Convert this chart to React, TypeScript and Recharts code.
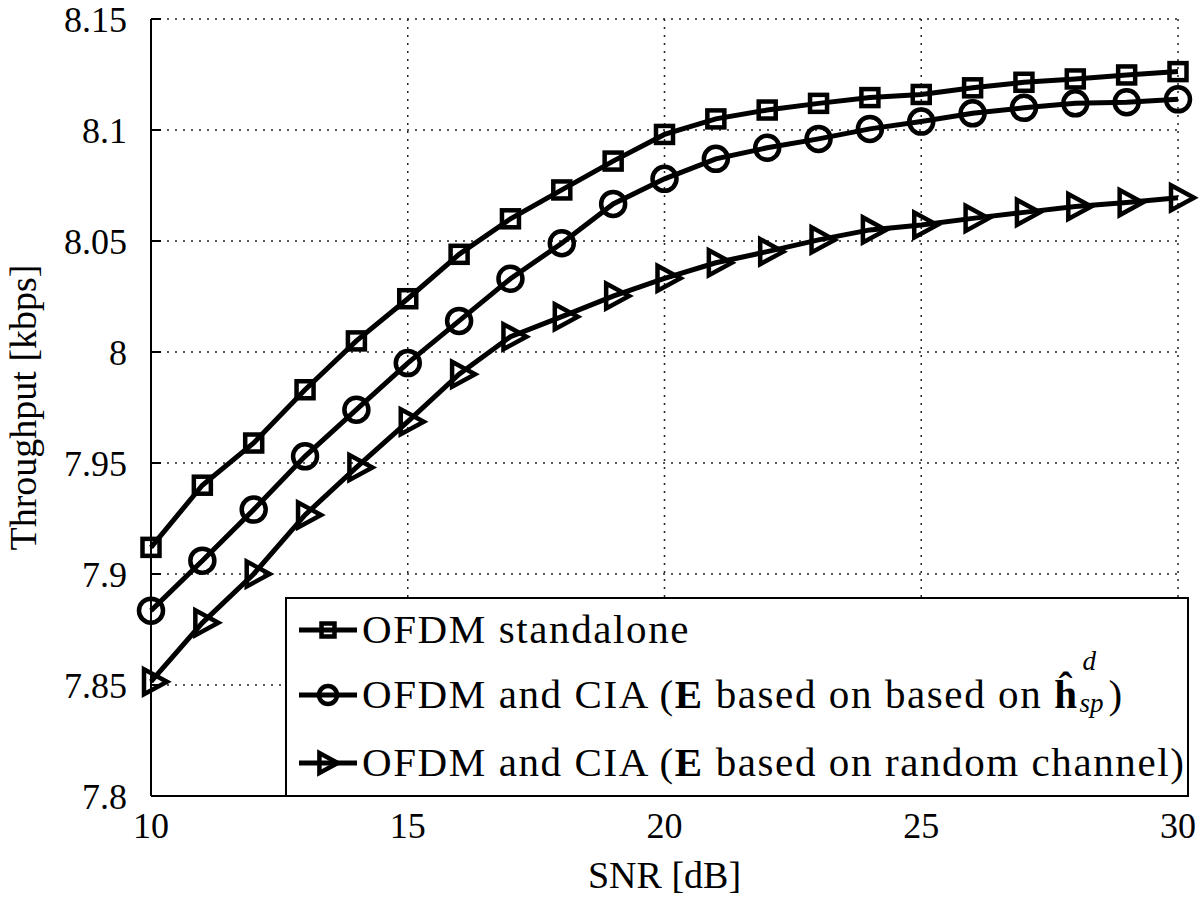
import React from 'react';
import {
  LineChart,
  Line,
  XAxis,
  YAxis,
  CartesianGrid,
} from 'recharts';

// SNR points (dB)
const snr = [10, 11, 12, 13, 14, 15, 16, 17, 18, 19, 20, 21, 22, 23, 24, 25, 26, 27, 28, 29, 30];

// throughput [kbps]
const standalone = [
  7.912, 7.94, 7.959, 7.983, 8.005, 8.024, 8.044, 8.06, 8.073, 8.086, 8.098,
  8.105, 8.109, 8.112, 8.1146, 8.116, 8.119, 8.1215, 8.123, 8.1248, 8.1263,
];
const ciaEstimated = [
  7.8835, 7.906, 7.929, 7.953, 7.974, 7.995, 8.014, 8.033, 8.049, 8.0667, 8.078,
  8.087, 8.092, 8.096, 8.1005, 8.1038, 8.1075, 8.11, 8.112, 8.1125, 8.1138,
];
const ciaRandom = [
  7.8515, 7.878, 7.9, 7.9266, 7.948, 7.9686, 7.99, 8.0069, 8.0159, 8.0252, 8.0332,
  8.0402, 8.0452, 8.0505, 8.055, 8.0572, 8.0602, 8.0629, 8.0655, 8.0673, 8.0695,
];

const xTicks = [10, 15, 20, 25, 30];
const yTicks = [7.8, 7.85, 7.9, 7.95, 8, 8.05, 8.1, 8.15];

const chartData = snr.map((s, i) => ({
  snr: s,
  standalone: standalone[i],
  ciaEstimated: ciaEstimated[i],
  ciaRandom: ciaRandom[i],
}));

const FONT = '"Liberation Serif", "Times New Roman", serif';
const MARK_W = 4.5;

// markers, hollow like matlab's default
const SquareMark = ({ cx, cy, s = 8.5 }: any) => (
  <rect x={cx - s} y={cy - s} width={s * 2} height={s * 2} fill="none" stroke="#000" strokeWidth={MARK_W} />
);
const CircleMark = ({ cx, cy, r = 12 }: any) => (
  <circle cx={cx} cy={cy} r={r} fill="none" stroke="#000" strokeWidth={MARK_W} />
);
const TriangleMark = ({ cx, cy, k = 1 }: any) => (
  <polygon
    points={`${cx - 7 * k},${cy - 12.5 * k} ${cx - 7 * k},${cy + 12.5 * k} ${cx + 16 * k},${cy}`}
    fill="none"
    stroke="#000"
    strokeWidth={MARK_W}
    strokeLinejoin="miter"
  />
);

const tickStyle = { fontFamily: FONT, fontSize: 36, fill: '#000' };

const LegendRow = ({ top, marker, children }: any) => (
  <div style={{ position: 'absolute', left: 0, top: top, height: 0 }}>
    <svg width={80} height={40} style={{ position: 'absolute', left: 8, top: -20 }}>
      <line x1={4} y1={20} x2={62} y2={20} stroke="#000" strokeWidth={5} />
      {marker}
    </svg>
    <div
      style={{
        position: 'absolute',
        left: 75,
        top: -26,
        whiteSpace: 'nowrap',
        fontFamily: FONT,
        fontSize: 41,
        lineHeight: '50px',
        letterSpacing: 1.6,
      }}
    >
      {children}
    </div>
  </div>
);

const scriptStyle: React.CSSProperties = {
  position: 'absolute',
  fontStyle: 'italic',
  fontSize: 27,
  lineHeight: '30px',
  letterSpacing: 0,
};

const App: React.FC = () => {
  return (
    <div style={{ position: 'absolute', left: 0, top: 0, width: 1200, height: 898, background: '#fff' }}>
      <LineChart
        width={1200}
        height={898}
        data={chartData}
        margin={{ top: 19, right: 22, bottom: 0, left: 0 }}
      >
        <CartesianGrid
          stroke="#222"
          strokeWidth={1.5}
          strokeDasharray="2 6"
          horizontalValues={yTicks}
          verticalValues={xTicks}
        />
        <XAxis
          dataKey="snr"
          type="number"
          domain={[10, 30]}
          ticks={xTicks}
          interval={0}
          height={102}
          axisLine={{ stroke: '#000', strokeWidth: 2 }}
          tickLine={{ stroke: '#000', strokeWidth: 2 }}
          tickSize={-10}
          tickMargin={26}
          tick={tickStyle}
          label={{ value: 'SNR [dB]', position: 'insideBottom', offset: 10, style: { fontFamily: FONT, fontSize: 38, fill: '#000' } }}
        />
        <XAxis
          xAxisId="top"
          orientation="top"
          dataKey="snr"
          type="number"
          domain={[10, 30]}
          ticks={xTicks}
          height={0}
          axisLine={{ stroke: '#000', strokeWidth: 2 }}
          tickLine={{ stroke: '#000', strokeWidth: 2 }}
          tickSize={-10}
          tick={false}
        />
        <YAxis
          type="number"
          domain={[7.8, 8.15]}
          ticks={yTicks}
          interval={0}
          width={151}
          axisLine={{ stroke: '#000', strokeWidth: 2 }}
          tickLine={{ stroke: '#000', strokeWidth: 2 }}
          tickSize={-10}
          tickMargin={34}
          tick={tickStyle}
          allowDataOverflow
          label={{
            value: 'Throughput [kbps]',
            angle: -90,
            position: 'insideLeft',
            offset: 23,
            style: { fontFamily: FONT, fontSize: 38, fill: '#000', textAnchor: 'middle' },
          }}
        />
        <YAxis
          yAxisId="right"
          orientation="right"
          type="number"
          domain={[7.8, 8.15]}
          ticks={yTicks}
          width={0}
          axisLine={{ stroke: '#000', strokeWidth: 2 }}
          tickLine={{ stroke: '#000', strokeWidth: 2 }}
          tickSize={-10}
          tick={false}
        />
        <Line
          type="linear"
          dataKey="standalone"
          stroke="#000"
          strokeWidth={5}
          isAnimationActive={false}
          dot={(p: any) => <SquareMark key={`s-${p.index}`} cx={p.cx} cy={p.cy} />}
          activeDot={false}
        />
        <Line
          type="linear"
          dataKey="ciaEstimated"
          stroke="#000"
          strokeWidth={5}
          isAnimationActive={false}
          dot={(p: any) => <CircleMark key={`c-${p.index}`} cx={p.cx} cy={p.cy} />}
          activeDot={false}
        />
        <Line
          type="linear"
          dataKey="ciaRandom"
          stroke="#000"
          strokeWidth={5}
          isAnimationActive={false}
          dot={(p: any) => <TriangleMark key={`t-${p.index}`} cx={p.cx} cy={p.cy} />}
          activeDot={false}
        />
      </LineChart>

      {/* legend box, lower right */}
      <div
        style={{
          position: 'absolute',
          left: 285,
          top: 597,
          width: 904,
          height: 200,
          boxSizing: 'border-box',
          border: '2px solid #000',
          background: '#fff',
        }}
      >
        <LegendRow top={31} marker={<SquareMark cx={33} cy={20} s={6.5} />}>
          OFDM standalone
        </LegendRow>
        <LegendRow top={96} marker={<CircleMark cx={33} cy={20} r={9} />}>
          OFDM and CIA (<b>E</b> based on based on <b>h&#770;</b>
          <span style={{ position: 'relative', display: 'inline-block', width: 30, height: 0 }}>
            <span style={{ ...scriptStyle, left: 4, top: -62 }}>d</span>
            <span style={{ ...scriptStyle, left: 1, top: -20 }}>sp</span>
          </span>
          )
        </LegendRow>
        <LegendRow top={164} marker={<TriangleMark cx={30} cy={20} k={0.8} />}>
          OFDM and CIA (<b>E</b> based on random channel)
        </LegendRow>
      </div>
    </div>
  );
};

export default App;
